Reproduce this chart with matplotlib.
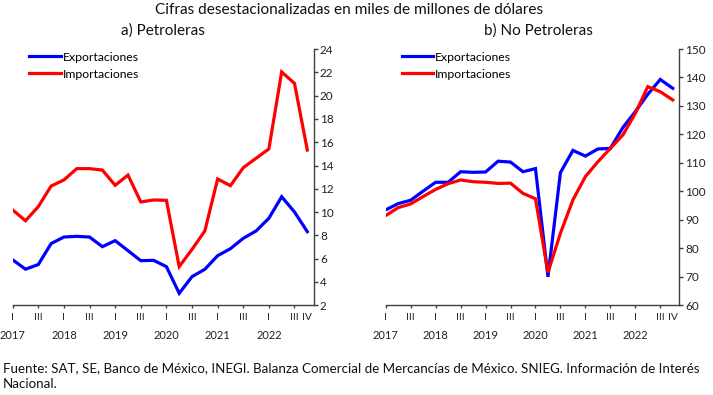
import matplotlib
matplotlib.use("Agg")
import matplotlib.pyplot as plt
import matplotlib.transforms as mtransforms

plt.rcParams['font.family'] = ['Lato', 'DejaVu Sans']

years = ["2017", "2018", "2019", "2020", "2021", "2022"]
quarter_labels = ["I", "III"]

pet_exp = [5.9, 5.1, 5.5, 7.3, 7.86, 7.92, 7.86, 7.03, 7.55, 6.69, 5.83, 5.86,
           5.32, 3.03, 4.46, 5.09, 6.26, 6.86, 7.75, 8.38, 9.47, 11.32, 10.01, 8.32]
pet_imp = [10.18, 9.26, 10.47, 12.24, 12.76, 13.73, 13.73, 13.61, 12.30, 13.18, 10.87, 11.04,
           11.01, 5.32, 6.80, 8.38, 12.84, 12.27, 13.81, 14.62, 15.42, 22.03, 21.05, 15.33]

nopet_exp = [93.5, 95.7, 96.9, 100.1, 103.2, 103.2, 106.9, 106.7, 106.8, 110.6, 110.3, 106.9,
             108.0, 70.0, 106.6, 114.4, 112.4, 114.9, 115.1, 122.4, 128.0, 134.1, 139.3, 136.2]
nopet_imp = [91.5, 94.3, 95.6, 98.2, 100.7, 102.7, 104.0, 103.4, 103.2, 102.8, 102.9, 99.3,
             97.4, 71.5, 85.3, 97.0, 105.2, 110.4, 115.1, 119.8, 127.4, 136.8, 135.0, 132.1]

W, H = 713, 395
fig = plt.figure(figsize=(W / 100, H / 100), dpi=100)

BLUE = '#0000FF'
RED = '#FF0000'
SPINE = '#404040'


def make_axes(left_px, right_px, exp, imp, ylim, yticks, leg_x):
    top_px, bot_px = 49, 305.3
    ax = fig.add_axes([left_px / W, 1 - bot_px / H, (right_px - left_px) / W, (bot_px - top_px) / H])
    x = list(range(len(exp)))
    ax.plot(x, exp, color=BLUE, lw=2.3, solid_joinstyle='miter', label='Exportaciones')
    ax.plot(x, imp, color=RED, lw=2.3, solid_joinstyle='miter', label='Importaciones')
    ax.set_xlim(0, 23.5)
    ax.set_ylim(*ylim)
    ax.set_yticks(yticks)
    ax.yaxis.tick_right()
    for s in ['left', 'top']:
        ax.spines[s].set_visible(False)
    for s in ['right', 'bottom']:
        ax.spines[s].set_color(SPINE)
        ax.spines[s].set_linewidth(1.0)
    ax.tick_params(axis='y', direction='out', length=3, width=1, color=SPINE, pad=1.5,
                   labelsize=8.5, labelcolor='#222222')
    major = list(range(0, 23, 2))
    ax.set_xticks(major)
    ax.set_xticklabels([quarter_labels[i % 2] for i in range(len(major))])
    ax.set_xticks([23], minor=True)
    ax.set_xticklabels(["IV"], minor=True)
    ax.tick_params(axis='x', which='major', direction='out', length=2.5, width=1, color=SPINE,
                   pad=3, labelsize=7.5, labelcolor='#222222')
    ax.tick_params(axis='x', which='minor', length=0, pad=5.5, labelsize=7.5, labelcolor='#222222')
    trans = mtransforms.blended_transform_factory(ax.transData, ax.transAxes)
    for k, yr in enumerate(years):
        ax.text(4 * k, -0.118, yr, transform=trans, ha='center', va='center',
                fontsize=8, color='#222222')
    ax.legend(loc='upper left', bbox_to_anchor=((leg_x - left_px) / (right_px - left_px), 0.99),
              frameon=False, fontsize=8.8, handlelength=2.6, handletextpad=0.15,
              labelspacing=0.5, borderaxespad=0, borderpad=0)
    return ax


ax1 = make_axes(12.7, 313.7, pet_exp, pet_imp, (2, 24), list(range(2, 25, 2)), 29)
ax2 = make_axes(385.7, 679, nopet_exp, nopet_imp, (60, 150), list(range(60, 151, 10)), 401.7)

fig.text(349 / W, 1 - 10 / H, "Cifras desestacionalizadas en miles de millones de dólares",
         ha='center', va='center', fontsize=11.1, color='#111111')
fig.text(163 / W, 1 - 31 / H, "a) Petroleras", ha='center', va='center', fontsize=11, color='#111111')
fig.text(538 / W, 1 - 31 / H, "b) No Petroleras", ha='center', va='center', fontsize=11, color='#111111')

fig.text(3 / W, 1 - 368 / H,
         "Fuente: SAT, SE, Banco de México, INEGI. Balanza Comercial de Mercancías de México. SNIEG. Información de Interés",
         ha='left', va='center', fontsize=9.6, color='#111111')
fig.text(3 / W, 1 - 384 / H, "Nacional.", ha='left', va='center', fontsize=9.6, color='#111111')

fig.savefig("out.png", dpi=100)
